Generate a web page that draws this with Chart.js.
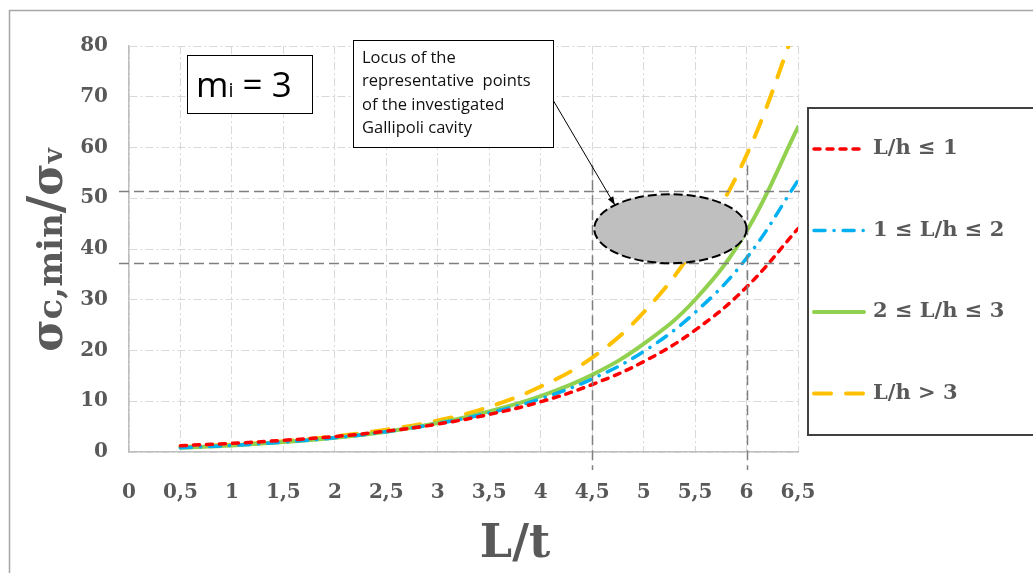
<!DOCTYPE html>
<html>
<head>
<meta charset="utf-8">
<script src="https://cdn.jsdelivr.net/npm/chart.js@4"></script>
<style>
  html, body { margin: 0; padding: 0; background: #fff; }
  #wrap { width: 1033px; height: 573px; }
</style>
</head>
<body>
<div id="wrap"><canvas id="stressChart" width="1033" height="573"></canvas></div>
<script>
// L/t values and sigma_c,min / sigma_v for each L/h class
const ratioLt = [0.5, 1, 1.5, 2, 2.5, 3, 3.5, 4, 4.5, 5, 5.5, 6, 6.5];
const stressLh1 = [1.25, 1.7, 2.3, 3.05, 4.1, 5.5, 7.4, 9.9, 13.3, 17.8, 24.0, 32.5, 44.0];
const stressLh12 = [0.85, 1.3, 1.95, 2.8, 4.0, 5.6, 7.7, 10.5, 14.4, 19.8, 27.5, 38.2, 53.5];
const stressLh23 = [0.85, 1.3, 1.95, 2.8, 4.0, 5.7, 8.0, 11.0, 15.2, 21.3, 30.0, 43.5, 64.0];
const stressLh3 = [1.0, 1.45, 2.1, 3.1, 4.4, 6.2, 8.9, 12.9, 18.6, 27.5, 40.5, 58.5, 85.0];
const seriesLabels = ["L/h \u2264 1", "1 \u2264 L/h \u2264 2", "2 \u2264 L/h \u2264 3", "L/h > 3"];

// Gallipoli cavity: guide lines and the ellipse of representative points
const cavityLt = [4.5, 6];
const cavityStress = [37.2, 51.4];
const ellipseLt = [4.52, 6.0];
const ellipseStress = [37.2, 50.8];

const textColor = "#595959";
const serif = "'DejaVu Serif', 'Liberation Serif', serif";
const sans = "'Open Sans', 'Liberation Sans', sans-serif";

function toPoints(values) {
    return ratioLt.map((x, i) => ({ x: x, y: values[i] }));
}

const decorPlugin = {
    id: "decor",
    beforeDraw(chart) {
        const ctx = chart.ctx;
        ctx.save();
        ctx.fillStyle = "#fff";
        ctx.fillRect(0, 0, chart.width, chart.height);
        ctx.strokeStyle = "#a6a6a6";
        ctx.lineWidth = 1.5;
        ctx.strokeRect(9.5, 10.5, chart.width + 20, chart.height + 20);
        ctx.restore();
    },
    afterDatasetsDraw(chart) {
        const ctx = chart.ctx;
        const xs = chart.scales.x, ys = chart.scales.y;
        ctx.save();

        // dashed guide lines bounding the cavity
        ctx.strokeStyle = "#7f7f7f";
        ctx.lineWidth = 1.5;
        ctx.setLineDash([10, 5]);
        cavityStress.forEach(v => {
            const y = Math.round(ys.getPixelForValue(v)) + 0.5;
            ctx.beginPath();
            ctx.moveTo(119, y);
            ctx.lineTo(xs.right + 2, y);
            ctx.stroke();
        });
        cavityLt.forEach(v => {
            const x = Math.round(xs.getPixelForValue(v)) + 0.5;
            ctx.beginPath();
            ctx.moveTo(x, ys.getPixelForValue(56.5));
            ctx.lineTo(x, ys.bottom + 18);
            ctx.stroke();
        });

        // ellipse
        const x0 = xs.getPixelForValue(ellipseLt[0]), x1 = xs.getPixelForValue(ellipseLt[1]);
        const y0 = ys.getPixelForValue(ellipseStress[1]), y1 = ys.getPixelForValue(ellipseStress[0]);
        const cx = (x0 + x1) / 2, cy = (y0 + y1) / 2, rx = (x1 - x0) / 2, ry = (y1 - y0) / 2;
        ctx.beginPath();
        ctx.ellipse(cx, cy, rx, ry, 0, 0, Math.PI * 2);
        ctx.fillStyle = "#bfbfbf";
        ctx.fill();
        ctx.setLineDash([9, 4]);
        ctx.lineWidth = 2;
        ctx.strokeStyle = "#000";
        ctx.stroke();

        // arrow from the text box to the ellipse
        const ang = Math.PI * 1.24;
        const tx = cx + rx * Math.cos(ang), ty = cy + ry * Math.sin(ang);
        const sx = 553, sy = 100;
        ctx.setLineDash([]);
        ctx.lineWidth = 1;
        ctx.beginPath();
        ctx.moveTo(sx, sy);
        ctx.lineTo(tx, ty);
        ctx.stroke();
        const a = Math.atan2(ty - sy, tx - sx);
        ctx.beginPath();
        ctx.moveTo(tx, ty);
        ctx.lineTo(tx - 9 * Math.cos(a - 0.35), ty - 9 * Math.sin(a - 0.35));
        ctx.lineTo(tx - 9 * Math.cos(a + 0.35), ty - 9 * Math.sin(a + 0.35));
        ctx.closePath();
        ctx.fillStyle = "#000";
        ctx.fill();

        // text box
        ctx.fillStyle = "#fff";
        ctx.fillRect(353, 40, 200, 107);
        ctx.strokeStyle = "#000";
        ctx.strokeRect(353.5, 40.5, 200, 107);
        ctx.fillStyle = "#111";
        ctx.font = "16.5px " + sans;
        ctx.textBaseline = "middle";
        ctx.textAlign = "left";
        ["Locus of the", "representative  points", "of the investigated", "Gallipoli cavity"]
            .forEach((line, i) => ctx.fillText(line, 362, 58 + i * 23.5));

        // m_i box
        ctx.fillStyle = "#fff";
        ctx.fillRect(187, 55, 125, 58);
        ctx.strokeRect(187.5, 55.5, 125, 58);
        ctx.fillStyle = "#000";
        ctx.textBaseline = "alphabetic";
        ctx.font = "35px " + sans;
        ctx.fillText("m", 196, 97);
        let w = ctx.measureText("m").width;
        ctx.font = "20px " + sans;
        ctx.fillText("i", 196 + w, 97);
        w += ctx.measureText("i").width;
        ctx.font = "35px " + sans;
        ctx.fillText(" = 3", 196 + w, 97);
        ctx.restore();
    },
    afterDraw(chart) {
        const ctx = chart.ctx;
        ctx.save();

        // legend
        ctx.strokeStyle = "#404040";
        ctx.lineWidth = 2;
        ctx.strokeRect(808, 108, 260, 327);
        chart.data.datasets.forEach((ds, i) => {
            const y = 149 + i * 81.5;
            ctx.strokeStyle = ds.borderColor;
            ctx.lineWidth = ds.borderWidth;
            ctx.lineCap = ds.borderCapStyle || "butt";
            ctx.setLineDash(ds.borderDash || []);
            ctx.beginPath();
            ctx.moveTo(814, y);
            ctx.lineTo(864, y);
            ctx.stroke();
            ctx.setLineDash([]);
            ctx.fillStyle = textColor;
            ctx.font = "bold 21px " + serif;
            ctx.textBaseline = "middle";
            ctx.textAlign = "left";
            ctx.fillText(ds.label, 873, y);
        });

        // axis titles
        ctx.fillStyle = textColor;
        ctx.textAlign = "center";
        ctx.textBaseline = "middle";
        ctx.font = "bold 46px " + serif;
        ctx.fillText("L/t", 515, 545);

        const parts = [
            ["\u03c3", "bold 44px "],
            ["c,min", "bold 34px "],
            ["/", "bold 48px "],
            ["\u03c3", "bold 44px "],
            ["v", "bold 26px "]
        ];
        let total = 0;
        parts.forEach(p => { ctx.font = p[1] + serif; total += ctx.measureText(p[0]).width; });
        ctx.translate(62, 250);
        ctx.rotate(-Math.PI / 2);
        ctx.textAlign = "left";
        ctx.textBaseline = "alphabetic";
        let px = -total / 2;
        parts.forEach(p => {
            ctx.font = p[1] + serif;
            ctx.fillText(p[0], px, 0);
            px += ctx.measureText(p[0]).width;
        });
        ctx.restore();
    }
};

const gridColor = "#d9d9d9";
const gridDash = [8, 3, 2, 3];

new Chart(document.getElementById("stressChart"), {
    type: "line",
    data: {
        datasets: [
            {
                label: seriesLabels[0], data: toPoints(stressLh1),
                borderColor: "#ff0000", borderWidth: 3.5, borderDash: [6, 7], borderCapStyle: "round"
            },
            {
                label: seriesLabels[1], data: toPoints(stressLh12),
                borderColor: "#00b0f0", borderWidth: 3.5, borderDash: [11, 9, 0.1, 9], borderCapStyle: "round"
            },
            {
                label: seriesLabels[2], data: toPoints(stressLh23),
                borderColor: "#92d050", borderWidth: 4, borderCapStyle: "round"
            },
            {
                label: seriesLabels[3], data: toPoints(stressLh3),
                borderColor: "#ffc000", borderWidth: 4, borderDash: [17, 15], borderCapStyle: "round"
            }
        ]
    },
    options: {
        responsive: false,
        animation: false,
        devicePixelRatio: 1,
        layout: { padding: { left: 0, top: 46, right: 235, bottom: 0 } },
        elements: {
            point: { radius: 0 },
            line: { tension: 0.4, fill: false }
        },
        plugins: {
            legend: { display: false },
            tooltip: { enabled: false }
        },
        scales: {
            x: {
                type: "linear",
                min: 0,
                max: 6.5,
                afterFit: s => { s.height = 121; },
                ticks: {
                    stepSize: 0.5,
                    padding: 29,
                    color: textColor,
                    font: { family: serif, size: 20, weight: "bold" },
                    callback: v => String(v).replace(".", ",")
                },
                grid: { color: gridColor, lineWidth: 1, drawTicks: false },
                border: { color: "#bfbfbf", width: 1.5, dash: gridDash }
            },
            y: {
                min: 0,
                max: 80,
                afterFit: s => { s.width = 129; },
                ticks: {
                    stepSize: 10,
                    padding: 21,
                    color: textColor,
                    font: { family: serif, size: 20, weight: "bold" }
                },
                grid: { color: gridColor, lineWidth: 1, drawTicks: false },
                border: { color: "#bfbfbf", width: 1.5, dash: gridDash }
            }
        }
    },
    plugins: [decorPlugin]
});
</script>
</body>
</html>
